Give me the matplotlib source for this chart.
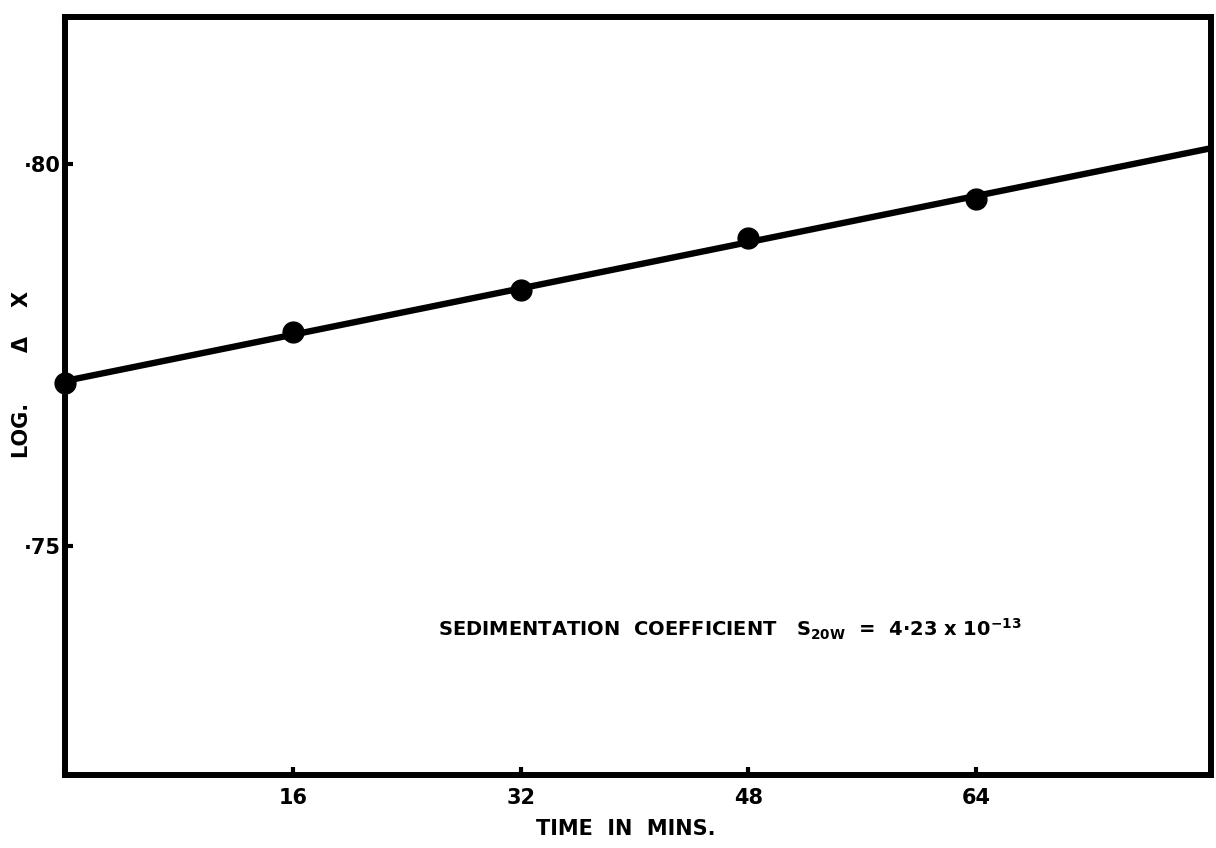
import numpy as np
import matplotlib.pyplot as plt

# Sedimentation run: log of boundary displacement vs time
time_min = [0, 16, 32, 48, 64]
log_dx = [0.7713, 0.7780, 0.7836, 0.7904, 0.7954]

x_ticks = [16, 32, 48, 64]
y_ticks = [0.75, 0.80]
y_tick_labels = ["·75", "·80"]

plt.rcParams["font.family"] = "DejaVu Sans"
plt.rcParams["font.weight"] = "bold"
plt.rcParams["axes.labelweight"] = "bold"
plt.rcParams["mathtext.fontset"] = "dejavusans"
plt.rcParams["mathtext.default"] = "bf"

fig = plt.figure(figsize=(12.16, 8.48), dpi=100)
ax = fig.add_axes([0.0535, 0.086, 0.9425, 0.894])

# straight line fitted through the points
slope, intercept = np.polyfit(time_min, log_dx, 1)
x_fit = np.array([0, 80.5])
ax.plot(x_fit, slope * x_fit + intercept, color="black", lw=4.6, solid_capstyle="butt", zorder=3)
ax.plot(time_min, log_dx, "o", color="black", ms=15, zorder=4, clip_on=False)

ax.set_xlim(0, 80.5)
ax.set_ylim(0.720, 0.8193)
ax.set_xticks(x_ticks)
ax.set_xticklabels([str(t) for t in x_ticks])
ax.set_yticks(y_ticks)
ax.set_yticklabels(y_tick_labels)
ax.tick_params(direction="in", length=6, width=3, labelsize=15)
ax.tick_params(axis="x", pad=9)
ax.tick_params(axis="y", pad=3)

for s in ax.spines.values():
    s.set_linewidth(4.3)

ax.set_xlabel("TIME  IN  MINS.", fontsize=15)
ax.xaxis.set_label_coords(0.489, -0.058)
ax.set_ylabel("LOG.       Δ    X", fontsize=15)
ax.yaxis.set_label_coords(-0.029, 0.528)

ax.text(0.325, 0.183,
        r"SEDIMENTATION  COEFFICIENT   $\mathbf{S_{20W}}$  =  4·23 x 10$^{\mathbf{-13}}$",
        transform=ax.transAxes, fontsize=14, ha="left", va="baseline")

fig.savefig("out.png", dpi=100)
